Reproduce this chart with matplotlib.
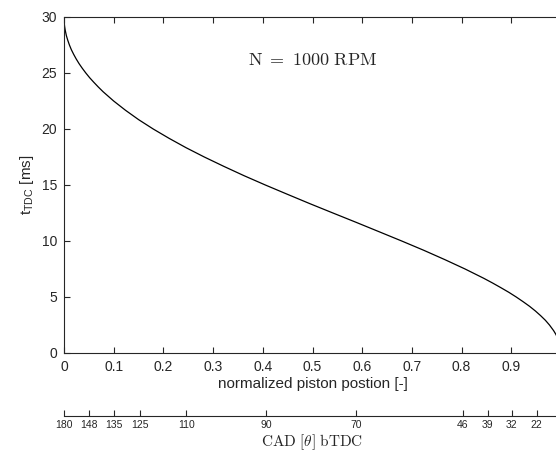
import matplotlib
matplotlib.use('Agg')
import matplotlib.pyplot as plt

# curve: normalized piston position vs time to TDC [ms]
position = [0.0, 0.0001, 0.0002, 0.0008, 0.0012, 0.0024, 0.0048, 0.0076, 0.0109, 0.0148,
            0.0194, 0.0246, 0.0304, 0.0368, 0.0439, 0.0516, 0.060, 0.0690, 0.0786, 0.0999,
            0.1238, 0.1503, 0.1795, 0.2113, 0.2456, 0.2823, 0.3213, 0.3623, 0.4051, 0.4495,
            0.4949, 0.5411, 0.5876, 0.6339, 0.6795, 0.7239, 0.7666, 0.8070, 0.8446, 0.8623,
            0.8791, 0.8950, 0.9099, 0.9238, 0.9367, 0.9485, 0.9591, 0.9686, 0.9768, 0.9851,
            0.9896, 0.9934, 0.9974, 1.0]
t_tdc = [30.0, 29.83, 29.67, 29.33, 29.17, 28.83, 28.33, 27.92, 27.5, 27.08,
         26.67, 26.25, 25.83, 25.42, 25.0, 24.58, 24.17, 23.75, 23.33, 22.5,
         21.67, 20.83, 20.0, 19.17, 18.33, 17.5, 16.67, 15.83, 15.0, 14.17,
         13.33, 12.5, 11.67, 10.83, 10.0, 9.17, 8.33, 7.5, 6.67, 6.25,
         5.83, 5.42, 5.0, 4.58, 4.17, 3.75, 3.33, 2.92, 2.5, 2.0,
         1.67, 1.33, 0.83, 0.0]

x_ticks = [0, 0.1, 0.2, 0.3, 0.4, 0.5, 0.6, 0.7, 0.8, 0.9]
x_ticklabels = ['0', '0.1', '0.2', '0.3', '0.4', '0.5', '0.6', '0.7', '0.8', '0.9']
y_ticks = [0, 5, 10, 15, 20, 25, 30]

# crank angle axis
cad_pos = [0.0, 0.051, 0.101, 0.152, 0.246, 0.407, 0.588, 0.802, 0.853, 0.901, 0.951, 1.0]
cad_labels = ['180', '148', '135', '125', '110', '90', '70', '46', '39', '32', '22', '0']

plt.rcParams['font.family'] = ['Liberation Sans', 'DejaVu Sans']
dark = '#262626'

fig = plt.figure(figsize=(5.56, 4.51), dpi=100)
ax = fig.add_axes([64 / 556, 98 / 451, 497 / 556, 336 / 451])
ax.plot(position, t_tdc, color='black', lw=0.9)
ax.set_xlim(0, 1)
ax.set_ylim(0, 30)
ax.set_xticks(x_ticks)
ax.set_xticklabels(x_ticklabels)
ax.set_yticks(y_ticks)
ax.tick_params(direction='in', length=4, width=0.8, top=True, right=False,
               labelsize=10, colors=dark, pad=5)
for s in ax.spines.values():
    s.set_linewidth(0.8)
    s.set_color(dark)
ax.set_xlabel('normalized piston postion [-]', fontsize=11, color=dark, labelpad=2)
ax.set_ylabel(r'$\mathregular{t_{TDC}}$ [ms]', fontsize=11, color=dark, labelpad=4)

ax.text(0.5, 26.1, r'$\mathrm{N\ =\ 1000\ RPM}$', ha='center', va='center',
        fontsize=13, math_fontfamily='cm', color=dark)

# second x axis with crank angle labels
ax2 = fig.add_axes([64 / 556, 35 / 451, 497 / 556, 0.0001])
ax2.patch.set_visible(False)
for side in ['top', 'left', 'right']:
    ax2.spines[side].set_visible(False)
ax2.spines['bottom'].set_linewidth(0.8)
ax2.spines['bottom'].set_color(dark)
ax2.set_yticks([])
ax2.set_xlim(0, 1)
ax2.set_xticks(cad_pos)
ax2.set_xticklabels(cad_labels)
ax2.tick_params(axis='x', direction='in', length=4, width=0.8, labelsize=7.5,
                colors=dark, pad=3)

fig.text(312 / 556, 1 - 442 / 451, r'$\mathrm{CAD}\ [\theta]\ \mathrm{bTDC}$',
         ha='center', va='center', fontsize=11, math_fontfamily='cm', color=dark)

fig.savefig('out.png', dpi=100)
